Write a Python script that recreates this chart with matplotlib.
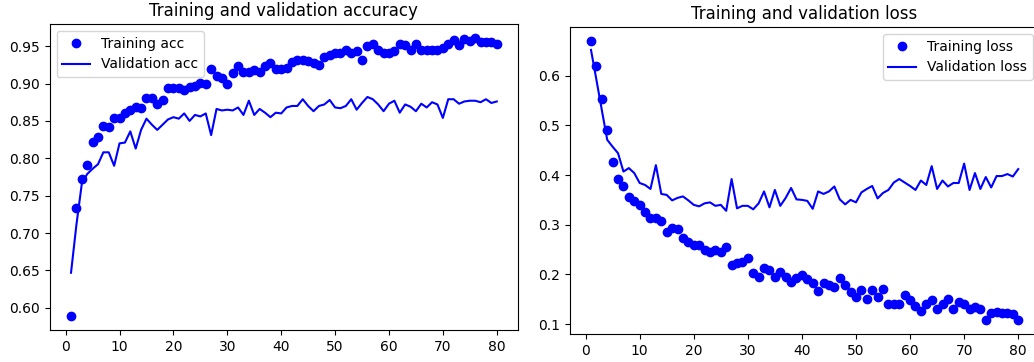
import matplotlib
matplotlib.use('Agg')
import matplotlib.pyplot as plt

# valores (80 epocas)
epocas = list(range(1, 81))

acc = [0.589, 0.733, 0.772, 0.791, 0.822, 0.828, 0.843, 0.842, 0.854, 0.854,
       0.861, 0.864, 0.869, 0.867, 0.880, 0.881, 0.872, 0.878, 0.894, 0.894,
       0.894, 0.892, 0.895, 0.897, 0.901, 0.899, 0.919, 0.910, 0.907, 0.899,
       0.914, 0.924, 0.915, 0.915, 0.918, 0.915, 0.924, 0.927, 0.920, 0.920,
       0.921, 0.929, 0.932, 0.931, 0.930, 0.928, 0.925, 0.936, 0.938, 0.941,
       0.941, 0.945, 0.941, 0.943, 0.931, 0.950, 0.953, 0.945, 0.941, 0.941,
       0.944, 0.953, 0.951, 0.945, 0.953, 0.945, 0.945, 0.945, 0.945, 0.948,
       0.953, 0.958, 0.951, 0.960, 0.957, 0.961, 0.955, 0.955, 0.956, 0.953]

val_acc = [0.647, 0.711, 0.766, 0.779, 0.786, 0.792, 0.808, 0.808, 0.790, 0.820,
           0.821, 0.836, 0.813, 0.838, 0.853, 0.845, 0.838, 0.845, 0.852, 0.855,
           0.853, 0.860, 0.850, 0.858, 0.856, 0.860, 0.831, 0.866, 0.864, 0.865,
           0.864, 0.868, 0.858, 0.877, 0.858, 0.866, 0.861, 0.855, 0.861, 0.860,
           0.868, 0.870, 0.870, 0.879, 0.870, 0.863, 0.870, 0.872, 0.878, 0.868,
           0.867, 0.870, 0.879, 0.865, 0.874, 0.882, 0.879, 0.872, 0.863, 0.873,
           0.877, 0.861, 0.872, 0.869, 0.863, 0.873, 0.868, 0.875, 0.872, 0.854,
           0.879, 0.879, 0.873, 0.876, 0.877, 0.877, 0.875, 0.879, 0.874, 0.876]

loss = [0.670, 0.619, 0.554, 0.490, 0.427, 0.393, 0.377, 0.355, 0.347, 0.340,
        0.326, 0.314, 0.314, 0.308, 0.286, 0.293, 0.292, 0.273, 0.265, 0.259,
        0.259, 0.249, 0.246, 0.249, 0.246, 0.255, 0.219, 0.222, 0.225, 0.232,
        0.203, 0.195, 0.212, 0.209, 0.194, 0.205, 0.195, 0.185, 0.192, 0.199,
        0.190, 0.182, 0.167, 0.182, 0.179, 0.175, 0.192, 0.179, 0.165, 0.155,
        0.169, 0.150, 0.169, 0.155, 0.170, 0.140, 0.140, 0.140, 0.158, 0.148,
        0.137, 0.127, 0.140, 0.148, 0.130, 0.140, 0.150, 0.131, 0.145, 0.140,
        0.131, 0.134, 0.130, 0.108, 0.122, 0.125, 0.123, 0.122, 0.120, 0.108]

val_loss = [0.652, 0.592, 0.531, 0.471, 0.457, 0.444, 0.407, 0.414, 0.404, 0.384,
            0.380, 0.372, 0.420, 0.362, 0.360, 0.349, 0.354, 0.357, 0.349, 0.340,
            0.337, 0.343, 0.345, 0.338, 0.340, 0.328, 0.392, 0.333, 0.338, 0.338,
            0.331, 0.343, 0.367, 0.335, 0.370, 0.338, 0.354, 0.374, 0.351, 0.350,
            0.348, 0.332, 0.367, 0.362, 0.367, 0.377, 0.351, 0.341, 0.350, 0.345,
            0.365, 0.372, 0.378, 0.353, 0.364, 0.370, 0.385, 0.392, 0.385, 0.378,
            0.370, 0.389, 0.380, 0.418, 0.372, 0.389, 0.377, 0.384, 0.384, 0.423,
            0.370, 0.404, 0.372, 0.396, 0.375, 0.398, 0.398, 0.402, 0.397, 0.412]

fig = plt.figure(figsize=(10.34, 3.62), dpi=100)

# eixos posicionados a mao (o original parece cortado na direita)
ax1 = fig.add_axes([0.0481, 0.0884, 0.4529, 0.8453])
ax1.plot(epocas, acc, 'bo', label='Training acc')
ax1.plot(epocas, val_acc, 'b', label='Validation acc')
ax1.set_title('Training and validation accuracy')
ax1.legend(loc='upper left')

ax2 = fig.add_axes([0.5509, 0.0773, 0.4545, 0.8481])
ax2.plot(epocas, loss, 'bo', label='Training loss')
ax2.plot(epocas, val_loss, 'b', label='Validation loss')
ax2.set_title('Training and validation loss')
ax2.legend(loc='upper right')

fig.savefig('out.png', dpi=100)
